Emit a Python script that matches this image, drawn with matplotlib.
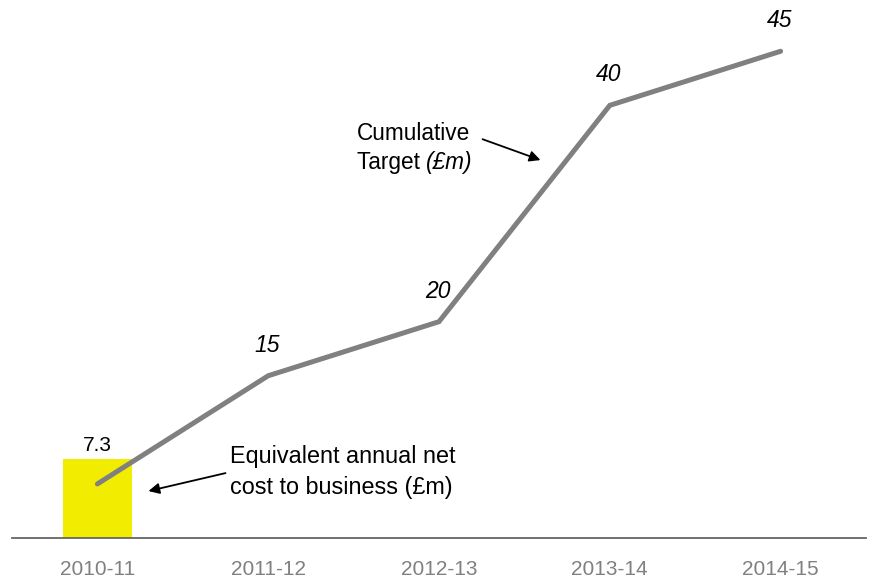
import matplotlib.pyplot as plt

plt.rcParams['font.family'] = ['Liberation Sans', 'DejaVu Sans']

# Financial years, cumulative target (£m) and the first-year net cost bar
years = ["2010-11", "2011-12", "2012-13", "2013-14", "2014-15"]
target = [5, 15, 20, 40, 45]
target_labels = [None, "15", "20", "40", "45"]
cost_year = 0
cost_value = 7.3

fig = plt.figure(figsize=(8.75, 5.78), dpi=100)
ax = fig.add_axes([12 / 875, 40 / 578, 854 / 875, 530 / 578])

x = list(range(len(years)))

ax.bar(cost_year, cost_value, width=0.4, color="#f2ec00", zorder=1)
ax.annotate(f"{cost_value}", xy=(cost_year, cost_value), xytext=(0, 3),
            textcoords="offset points", ha="center", va="bottom", fontsize=15)

ax.plot(x, target, color="#808080", lw=3.6, solid_capstyle="round",
        solid_joinstyle="miter", zorder=2)
for xi, yi, lab in zip(x, target, target_labels):
    if lab:
        ax.annotate(lab, xy=(xi, yi), xytext=(-1, 22), textcoords="offset points",
                    ha="center", va="center", fontsize=16.5, style="italic")

# Callout for the line
ax.text(1.517, 37.4, "Cumulative", fontsize=16.3, ha="left", va="center")
t = ax.text(1.517, 34.75, "Target ", fontsize=16.3, ha="left", va="center")
ax.annotate("(£m)", xy=(1, 0), xycoords=t, ha="left", va="bottom",
            fontsize=16.3, style="italic")
ax.annotate("", xy=(2.594, 34.94), xytext=(2.255, 36.87),
            arrowprops=dict(arrowstyle="-|>", color="black", lw=1.3,
                            mutation_scale=16, shrinkA=0, shrinkB=0))

# Callout for the bar
ax.text(0.779, 7.49, "Equivalent annual net", fontsize=16.8, ha="left", va="center")
ax.text(0.779, 4.71, "cost to business (£m)", fontsize=16.8, ha="left", va="center")
ax.annotate("", xy=(0.299, 4.34), xytext=(0.75, 6.0),
            arrowprops=dict(arrowstyle="-|>", color="black", lw=1.3,
                            mutation_scale=16, shrinkA=0, shrinkB=0))

ax.set_xlim(-0.5, 4.5)
ax.set_ylim(0, 49)
ax.set_xticks(x)
ax.set_xticklabels(years, fontsize=15, color="#808080")
ax.set_yticks([])
ax.tick_params(axis="x", length=0, pad=16)
for side in ("top", "left", "right"):
    ax.spines[side].set_visible(False)
ax.spines["bottom"].set_color("#666666")
ax.spines["bottom"].set_linewidth(1.3)

fig.savefig("out.png", dpi=100)
